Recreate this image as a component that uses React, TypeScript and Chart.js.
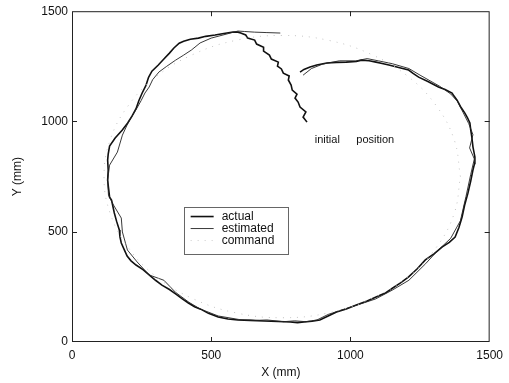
import { useEffect, useRef } from "react";
import { Chart, registerables } from "chart.js";

Chart.register(...registerables);

// Measured robot path (mm): starts at the initial position, climbs to the loop and runs round it
const actualX = [844, 830, 840, 819, 812, 801, 808, 791, 787, 777, 780, 759, 752, 738, 741, 716, 709, 688, 688, 663, 656, 631, 624, 606, 596,
  578, 540, 514, 480, 454, 425, 401, 385, 366, 350, 330, 310, 287, 275, 266, 252, 240, 230, 216, 200, 180, 155, 135, 130, 128, 130, 128, 131, 135, 142, 152, 160, 170, 172, 177, 190, 198, 212, 230, 255, 277, 300, 323, 350, 372, 395, 418, 440, 462, 490, 525, 560, 596, 640, 691, 740, 784, 810, 833, 862, 890, 920, 950, 985, 1021, 1060, 1092, 1125, 1152, 1180, 1209, 1240, 1269, 1300, 1330, 1355, 1376, 1390, 1401, 1410, 1422, 1432, 1440, 1446, 1447, 1440, 1436, 1432, 1429, 1420, 1411, 1395, 1383, 1372, 1365, 1340, 1316, 1280, 1245, 1225, 1209, 1170, 1138, 1110, 1092, 1067, 1040, 1021, 985, 950, 915, 879, 855, 833, 819];
const actualY = [997, 1020, 1043, 1065, 1088, 1106, 1124, 1142, 1165, 1188, 1206, 1219, 1238, 1251, 1269, 1283, 1301, 1319, 1337, 1351, 1369, 1378, 1392, 1401, 1405,
  1406, 1398, 1392, 1386, 1378, 1373, 1364, 1355, 1333, 1310, 1283, 1256, 1228, 1200, 1165, 1129, 1094, 1058, 1025, 993, 960, 925, 888, 852, 825, 780, 734, 700, 657, 644, 585, 548, 508, 478, 449, 412, 390, 368, 349, 328, 304, 280, 258, 238, 218, 197, 177, 160, 149, 130, 113, 104, 100, 98, 95, 93, 91, 88, 91, 94, 100, 118, 136, 150, 168, 186, 204, 222, 245, 268, 295, 332, 372, 400, 431, 452, 476, 520, 567, 620, 675, 730, 780, 810, 839, 885, 929, 962, 993, 1018, 1038, 1068, 1097, 1115, 1129, 1145, 1156, 1180, 1201, 1218, 1233, 1246, 1256, 1264, 1269, 1275, 1278, 1272, 1269, 1268, 1265, 1256, 1247, 1236, 1224, 1201];

// Position estimate (mm)
const estimatedX = [748, 700, 656, 620, 596, 560, 500, 460, 429, 400, 372, 340, 312, 290, 277, 262, 248, 232, 216, 200, 181, 163, 135, 128, 131, 149, 177, 181, 199, 234, 277, 330, 372, 420, 460, 525, 600, 660, 700, 760, 800, 840, 880, 920, 980, 1030, 1090, 1150, 1210, 1270, 1310, 1360, 1395, 1415, 1432, 1445, 1428, 1440, 1425, 1405, 1385, 1360, 1320, 1250, 1210, 1150, 1100, 1060, 1020, 960, 900, 860, 830];
const estimatedY = [1401, 1403, 1405, 1408, 1410, 1398, 1378, 1356, 1324, 1300, 1278, 1250, 1224, 1190, 1156, 1129, 1094, 1058, 1025, 990, 938, 861, 802, 734, 666, 621, 562, 499, 417, 363, 304, 280, 225, 180, 150, 118, 102, 98, 100, 92, 96, 92, 100, 125, 150, 170, 195, 235, 280, 355, 410, 470, 550, 660, 760, 830, 880, 940, 990, 1040, 1090, 1125, 1160, 1210, 1240, 1262, 1275, 1285, 1275, 1275, 1260, 1240, 1210];

// Commanded loop (mm)
const commandX = [1395, 1373, 1309, 1208, 1075, 921, 755, 589, 435, 302, 201, 137, 115, 137, 201, 302, 435, 589, 755, 921, 1075, 1208, 1309, 1373, 1395];
const commandY = [750, 916, 1070, 1203, 1304, 1368, 1390, 1368, 1304, 1203, 1070, 916, 750, 584, 430, 297, 196, 132, 110, 132, 196, 297, 430, 584, 750];

const axisTicks = [0, 500, 1000, 1500];
const seriesNames = ["actual", "estimated", "command"];
const FONT = "'Liberation Sans', Arial, Helvetica, sans-serif";

const toPoints = (xs: number[], ys: number[]) => xs.map((x, i) => ({ x, y: ys[i] }));

const framePlugin = {
  id: "frameAndNotes",
  afterDraw(chart: any) {
    const { ctx, chartArea, scales } = chart;
    const { left, right, top, bottom } = chartArea;
    const xs = scales.x;
    const ys = scales.y;
    ctx.save();
    // axes box
    ctx.strokeStyle = "#222";
    ctx.lineWidth = 1;
    ctx.strokeRect(left + 0.5, top + 0.5, right - left - 1, bottom - top - 1);
    // inward tick marks on all four sides
    const tl = 5;
    ctx.beginPath();
    axisTicks.slice(1, -1).forEach((v) => {
      const px = Math.round(xs.getPixelForValue(v)) + 0.5;
      ctx.moveTo(px, bottom);
      ctx.lineTo(px, bottom - tl);
      ctx.moveTo(px, top);
      ctx.lineTo(px, top + tl);
      const py = Math.round(ys.getPixelForValue(v)) + 0.5;
      ctx.moveTo(left, py);
      ctx.lineTo(left + tl, py);
      ctx.moveTo(right, py);
      ctx.lineTo(right - tl, py);
    });
    ctx.stroke();

    // start annotation
    ctx.fillStyle = "#111";
    ctx.font = `11px ${FONT}`;
    ctx.textBaseline = "middle";
    ctx.textAlign = "left";
    const ay = ys.getPixelForValue(916);
    ctx.fillText("initial", xs.getPixelForValue(872), ay);
    ctx.fillText("position", xs.getPixelForValue(1021), ay);

    // legend
    const lx0 = xs.getPixelForValue(401);
    const lx1 = xs.getPixelForValue(775);
    const ly0 = ys.getPixelForValue(612);
    const ly1 = ys.getPixelForValue(400);
    ctx.fillStyle = "#fff";
    ctx.fillRect(Math.round(lx0) + 1, Math.round(ly0) + 1, Math.round(lx1 - lx0) - 1, Math.round(ly1 - ly0) - 1);
    ctx.strokeStyle = "#666";
    ctx.lineWidth = 1;
    ctx.strokeRect(Math.round(lx0) + 0.5, Math.round(ly0) + 0.5, Math.round(lx1 - lx0), Math.round(ly1 - ly0));
    const styles = [
      { w: 1.6, c: "#111", dash: [] as number[] },
      { w: 0.9, c: "#222", dash: [] as number[] },
      { w: 1, c: "#ccc", dash: [1, 6] },
    ];
    ctx.font = `12px ${FONT}`;
    seriesNames.forEach((name, i) => {
      const y = ly0 + 9.5 + i * 12;
      const s = styles[i];
      ctx.beginPath();
      ctx.strokeStyle = s.c;
      ctx.lineWidth = s.w;
      ctx.setLineDash(s.dash);
      ctx.moveTo(lx0 + 7, y);
      ctx.lineTo(lx0 + 30, y);
      ctx.stroke();
      ctx.setLineDash([]);
      ctx.fillStyle = "#111";
      ctx.fillText(name, lx0 + 38, y);
    });
    ctx.restore();
  },
};

export default function App() {
  const canvasRef = useRef<HTMLCanvasElement | null>(null);

  useEffect(() => {
    const canvas = canvasRef.current;
    if (!canvas) return;
    const tickFont = { family: FONT, size: 12 };
    const chart = new Chart(canvas, {
      type: "scatter",
      data: {
        datasets: [
          {
            label: seriesNames[2],
            data: toPoints(commandX, commandY),
            showLine: true,
            borderColor: "#c4c4c4",
            borderWidth: 1,
            borderDash: [1, 6],
            tension: 0.4,
            pointRadius: 0,
          },
          {
            label: seriesNames[1],
            data: toPoints(estimatedX, estimatedY),
            showLine: true,
            borderColor: "#222",
            borderWidth: 0.9,
            tension: 0,
            pointRadius: 0,
          },
          {
            label: seriesNames[0],
            data: toPoints(actualX, actualY),
            showLine: true,
            borderColor: "#111",
            borderWidth: 1.6,
            tension: 0,
            pointRadius: 0,
          },
        ],
      },
      options: {
        responsive: false,
        animation: false,
        layout: { padding: { left: 0, top: 11, right: 14, bottom: 0 } },
        plugins: { legend: { display: false }, tooltip: { enabled: false } },
        scales: {
          x: {
            type: "linear",
            min: 0,
            max: 1500,
            afterBuildTicks: (s: any) => {
              s.ticks = axisTicks.map((v) => ({ value: v }));
            },
            ticks: { color: "#111", font: tickFont, padding: 6, maxRotation: 0, callback: (v: any) => String(v) },
            grid: { display: false, drawTicks: false },
            border: { display: false },
            title: { display: true, text: "X (mm)", color: "#111", font: tickFont, padding: { top: 0, bottom: 3 } },
            afterFit: (s: any) => {
              s.height = 41;
            },
          },
          y: {
            type: "linear",
            min: 0,
            max: 1500,
            afterBuildTicks: (s: any) => {
              s.ticks = axisTicks.map((v) => ({ value: v }));
            },
            ticks: { color: "#111", font: tickFont, padding: 4, callback: (v: any) => String(v) },
            grid: { display: false, drawTicks: false },
            border: { display: false },
            title: { display: true, text: "Y (mm)", color: "#111", font: tickFont, padding: { top: 10, bottom: 0 } },
            afterFit: (s: any) => {
              s.width = 72;
            },
          },
        },
      },
      plugins: [framePlugin],
    });
    return () => chart.destroy();
  }, []);

  return (
    <div style={{ position: "fixed", left: 0, top: 0, width: 509, height: 383, background: "#fff" }}>
      <canvas ref={canvasRef} width={509} height={383} />
    </div>
  );
}
